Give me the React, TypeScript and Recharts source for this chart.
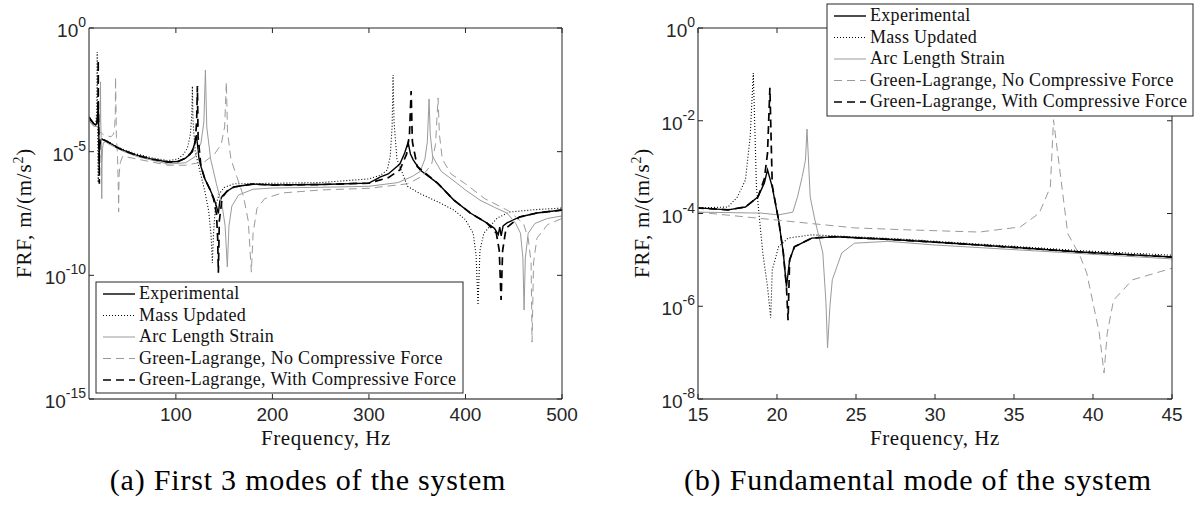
import React from 'react';
import { LineChart, Line, XAxis, YAxis } from 'recharts';

type Pt = [number, number];

// Frequency (Hz), FRF (m/(m/s^2))
const EXPERIMENTAL: Pt[] = [
  [10, 2.51e-4], [12, 1.91e-4], [15, 1.32e-4], [16.9, 1.2e-4], [18, 1.38e-4], [18.8, 2.29e-4],
  [19.2, 4.57e-4], [19.4, 8.71e-4], [19.7, 3.72e-4], [20.1, 7.24e-5], [20.4, 1.41e-5], [20.6, 2.63e-6],
  [20.8, 1e-5], [21.1, 1.91e-5], [22.2, 2.95e-5], [23.7, 3.16e-5], [27.8, 2.69e-5], [32.8, 2.09e-5],
  [39.2, 1.48e-5], [45, 1.15e-5], [58, 7.41e-6], [75, 5.01e-6], [92, 3.8e-6], [102, 3.98e-6],
  [110, 5.5e-6], [115, 7.94e-6], [118, 1.41e-5], [120, 2.51e-5], [121.2, 4.68e-5], [122.5, 1.78e-5],
  [124, 5.01e-6], [126, 2.51e-6], [130, 7.94e-7], [135, 3.16e-7], [139, 1.41e-7], [142, 6.31e-8],
  [144, 3.16e-8], [145.5, 1e-7], [148, 1.58e-7], [153, 2.51e-7], [160, 3.72e-7], [180, 4.9e-7],
  [200, 4.47e-7], [250, 4.68e-7], [300, 5.37e-7], [312, 9.55e-7], [320, 1.26e-6], [332, 3.16e-6],
  [337, 8.91e-6], [340.6, 2.4e-5], [343, 7.94e-6], [346, 4.57e-6], [353, 1.82e-6], [371, 5.37e-7],
  [388, 1.1e-7], [405, 3.31e-8], [422, 1.32e-8], [430, 7.94e-9], [434, 4.47e-9], [435.5, 8.91e-9],
  [437, 3.98e-9], [439, 1e-8], [443, 1.32e-8], [456, 2.29e-8], [474, 3.31e-8], [500, 4.37e-8],
];

const MASS_UPDATED: Pt[] = [
  [10, 2.51e-4], [12, 1.91e-4], [15, 1.32e-4], [16.9, 1.38e-4], [17.5, 2.29e-4], [18, 5.25e-4],
  [18.3, 4.47e-3], [18.5, 1.07e-1], [18.7, 3.72e-4], [18.9, 7.24e-5], [19.1, 1.41e-5], [19.4, 2.63e-6],
  [19.6, 5.62e-7], [19.7, 6.03e-6], [20.1, 1.91e-5], [20.7, 2.95e-5], [22.2, 3.47e-5], [27.8, 2.82e-5],
  [32.8, 2.19e-5], [39.2, 1.58e-5], [45, 1.26e-5], [58, 8.32e-6], [75, 5.62e-6], [92, 4.37e-6],
  [102, 5.01e-6], [108, 7.94e-6], [112, 1.41e-5], [115, 5.01e-5], [116.5, 3.16e-4], [117.1, 4.47e-3],
  [117.8, 1.58e-4], [120, 1e-5], [125, 1.58e-6], [130, 2.51e-7], [134, 3.98e-8], [136.5, 3.98e-9],
  [137.8, 3.16e-10], [139, 5.01e-9], [141, 6.31e-8], [145, 2e-7], [150, 3.55e-7], [160, 5.01e-7],
  [200, 5.25e-7], [250, 5.62e-7], [300, 7.94e-7], [312, 1.12e-6], [319, 1.82e-6], [322, 6.31e-6],
  [324, 1e-4], [325, 1.26e-2], [326, 1.58e-4], [329, 5.01e-6], [340, 3.98e-7], [353, 2e-7],
  [370, 1e-7], [388, 4.37e-8], [400, 1.78e-8], [408, 5.01e-9], [411, 6.31e-10], [413, 6.31e-12],
  [415, 1e-9], [419, 5.01e-9], [433, 2.09e-8], [446, 3.63e-8], [470, 4.47e-8], [500, 5.25e-8],
];

const ARC_LENGTH: Pt[] = [
  [10, 2e-4], [12, 1.51e-4], [15, 1.07e-4], [19, 1.02e-4], [20.1, 9.33e-5], [21, 1.07e-4],
  [21.3, 2.29e-4], [21.6, 6.31e-4], [21.8, 1.41e-3], [21.9, 6.61e-3], [22.1, 2.29e-4], [22.4, 7.24e-5],
  [22.9, 1.41e-5], [23.1, 1.17e-6], [23.2, 1.26e-7], [23.35, 1e-6], [23.5, 3.72e-6], [24.1, 1.41e-5],
  [24.9, 2.29e-5], [27, 2.51e-5], [30, 2.09e-5], [45, 1.05e-5], [60, 6.31e-6], [92, 3.16e-6],
  [110, 3.55e-6], [120, 6.31e-6], [126, 2.24e-5], [129, 1.58e-4], [130.6, 2e-2], [132, 1e-4],
  [136, 5.01e-6], [142, 5.01e-7], [148, 6.31e-8], [151, 1e-8], [153.3, 2.19e-10], [155, 1e-8],
  [158, 6.31e-8], [165, 1.78e-7], [180, 3.02e-7], [200, 3.39e-7], [250, 3.63e-7], [300, 3.98e-7],
  [330, 5.62e-7], [345, 1e-6], [353, 1.58e-6], [358, 5.01e-6], [360.5, 2.51e-5], [362.3, 1.35e-3],
  [363.5, 5.01e-5], [366, 6.31e-6], [375, 1.58e-6], [387, 7.08e-7], [400, 2.82e-7], [415, 1.1e-7],
  [430, 5.62e-8], [443, 3.31e-8], [452, 1.26e-8], [457, 5.01e-9], [459.5, 5.01e-10], [460.7, 3.98e-12],
  [462, 5.01e-10], [465, 5.01e-9], [472, 1.26e-8], [485, 2e-8], [500, 2.51e-8],
];

const GL_NO_COMPRESSIVE: Pt[] = [
  [10, 1.91e-4], [12, 1.41e-4], [15, 1.07e-4], [21.1, 6.61e-5], [24.9, 4.9e-5], [28, 4.47e-5],
  [32.8, 3.98e-5], [35.4, 5.13e-5], [36.6, 1.02e-4], [37.3, 3.72e-4], [37.5, 1.05e-2], [38.4, 3.72e-5],
  [39.2, 1.17e-5], [39.6, 5.25e-6], [40.4, 2.63e-7], [40.7, 3.63e-8], [40.9, 2.63e-7], [41.3, 1.35e-6],
  [42.5, 3.72e-6], [45, 6.61e-6], [60, 5.01e-6], [92, 2.82e-6], [110, 2.82e-6], [130, 3.98e-6],
  [140, 7.94e-6], [147, 2e-5], [150.5, 1e-4], [152.3, 6.61e-3], [153.5, 6.31e-5], [157, 5.01e-6],
  [163, 1e-6], [170, 1.58e-7], [175, 1.58e-8], [178.2, 1.35e-10], [180, 5.01e-9], [184, 5.01e-8],
  [192, 1.26e-7], [210, 2.14e-7], [250, 2.82e-7], [300, 3.31e-7], [340, 5.01e-7], [355, 1e-6],
  [365, 3.16e-6], [369, 2e-5], [371.6, 1.48e-3], [373, 5.01e-5], [376, 5.01e-6], [385, 1.26e-6],
  [400, 5.01e-7], [420, 1.26e-7], [445, 3.98e-8], [460, 1.26e-8], [465, 3.16e-9], [468, 3.16e-10],
  [469, 2e-13], [470.5, 3.16e-10], [474, 3.16e-9], [485, 1.12e-8], [500, 2e-8],
];

const GL_WITH_COMPRESSIVE: Pt[] = [
  [10, 2.51e-4], [12, 1.91e-4], [15, 1.32e-4], [16.9, 1.2e-4], [18, 1.38e-4], [18.8, 2.29e-4],
  [19.2, 5.62e-4], [19.4, 2e-3], [19.55, 5.13e-2], [19.7, 3.98e-4], [20.1, 7.24e-5], [20.4, 1.41e-5],
  [20.6, 2.51e-6], [20.7, 5.01e-7], [20.8, 1e-5], [21.1, 1.91e-5], [22.2, 2.95e-5], [23.7, 3.16e-5],
  [27.8, 2.69e-5], [32.8, 2.09e-5], [39.2, 1.48e-5], [45, 1.15e-5], [58, 7.41e-6], [75, 5.01e-6],
  [92, 3.8e-6], [102, 3.98e-6], [110, 5.5e-6], [117, 1e-5], [120, 2.51e-5], [121.5, 1.58e-4],
  [122.3, 4.47e-3], [123, 3.98e-5], [126, 2.51e-6], [130, 7.94e-7], [135, 3.16e-7], [139, 1.26e-7],
  [142, 3.16e-8], [143.3, 3.16e-9], [144, 1.26e-10], [145, 1.58e-8], [148, 1.41e-7], [153, 2.51e-7],
  [160, 3.72e-7], [180, 4.9e-7], [200, 4.47e-7], [250, 4.68e-7], [300, 5.37e-7], [320, 8.91e-7],
  [332, 1.82e-6], [339, 7.94e-6], [342, 5.01e-5], [343.7, 2.82e-3], [345, 2.51e-5], [350, 2.51e-6],
  [371, 5.37e-7], [388, 1.1e-7], [405, 3.31e-8], [422, 1.32e-8], [432, 5.01e-9], [435, 1e-9],
  [436.9, 1e-11], [438.5, 1e-9], [442, 7.94e-9], [456, 2.29e-8], [474, 3.31e-8], [500, 4.37e-8],
];

const SERIES_NAMES = [
  'Experimental',
  'Mass Updated',
  'Arc Length Strain',
  'Green-Lagrange, No Compressive Force',
  'Green-Lagrange, With Compressive Force',
];

const LEFT_X_DOMAIN: [number, number] = [10, 500];
const LEFT_X_TICKS = [100, 200, 300, 400, 500];
const LEFT_Y_DOMAIN: [number, number] = [1e-15, 1];
const LEFT_Y_TICKS = [1e-15, 1e-10, 1e-5, 1];

const RIGHT_X_DOMAIN: [number, number] = [15, 45];
const RIGHT_X_TICKS = [15, 20, 25, 30, 35, 40, 45];
const RIGHT_Y_DOMAIN: [number, number] = [1e-8, 1];
const RIGHT_Y_TICKS = [1e-8, 1e-6, 1e-4, 1e-2, 1];

const CAPTIONS = ['(a) First 3 modes of the system', '(b) Fundamental mode of the system'];
const X_LABEL = 'Frequency, Hz';

const SERIF = '"Liberation Serif", "Times New Roman", serif';
const SANS = '"Liberation Sans", Arial, Helvetica, sans-serif';
const AXIS = '#262626';
const AXIS_SOFT = '#5a5a5a';
const GRAY = '#9a9a9a';

const STYLES = [
  { color: '#000000', width: 1.4, dash: undefined as string | undefined },
  { color: '#000000', width: 1.1, dash: '1 2' },
  { color: GRAY, width: 1, dash: undefined },
  { color: GRAY, width: 1, dash: '8 5' },
  { color: '#000000', width: 1.7, dash: '8 5' },
];

const SERIES_DATA = [EXPERIMENTAL, MASS_UPDATED, ARC_LENGTH, GL_NO_COMPRESSIVE, GL_WITH_COMPRESSIVE];

const rows = (pts: Pt[]) => pts.map(([f, v]) => ({ f, v }));

const expOf = (v: number) => Math.round(Math.log10(v));

const BottomTick = (p: any) => (
  <g>
    <line x1={p.x} y1={p.y} x2={p.x} y2={p.y - 5} stroke={AXIS} strokeWidth={1} />
    <text x={p.x} y={p.y + 22} textAnchor="middle" fontFamily={SANS} fontSize={19} fill={AXIS}>
      {p.payload.value}
    </text>
  </g>
);

const TopTick = (p: any) => (
  <line x1={p.x} y1={p.y} x2={p.x} y2={p.y + 5} stroke={AXIS} strokeWidth={1} />
);

const LeftTick = (p: any) => (
  <g>
    <line x1={p.x} y1={p.y} x2={p.x + 5} y2={p.y} stroke={AXIS} strokeWidth={1} />
    <text x={p.x - 3} y={p.y + 9} textAnchor="end" fontFamily={SANS} fontSize={19} fill={AXIS}>
      10
      <tspan dy={-10} fontSize={14}>
        {expOf(p.payload.value)}
      </tspan>
    </text>
  </g>
);

const RightTick = (p: any) => (
  <line x1={p.x} y1={p.y} x2={p.x - 5} y2={p.y} stroke={AXIS} strokeWidth={1} />
);

type PanelProps = {
  width: number;
  margin: { top: number; right: number; bottom: number; left: number };
  xDomain: [number, number];
  xTicks: number[];
  yDomain: [number, number];
  yTicks: number[];
};

function Panel({ width, margin, xDomain, xTicks, yDomain, yTicks }: PanelProps) {
  return (
    <LineChart width={width} height={506} margin={margin}>
      <XAxis
        xAxisId="b"
        dataKey="f"
        type="number"
        orientation="bottom"
        domain={xDomain}
        ticks={xTicks}
        interval={0}
        allowDataOverflow
        height={1}
        tickSize={0}
        tickMargin={0}
        tickLine={false}
        axisLine={{ stroke: AXIS_SOFT, strokeWidth: 1.4 }}
        tick={BottomTick}
      />
      <XAxis
        xAxisId="t"
        dataKey="f"
        type="number"
        orientation="top"
        domain={xDomain}
        ticks={xTicks}
        interval={0}
        allowDataOverflow
        height={1}
        tickSize={0}
        tickMargin={0}
        tickLine={false}
        axisLine={{ stroke: AXIS, strokeWidth: 1 }}
        tick={TopTick}
      />
      <YAxis
        yAxisId="l"
        type="number"
        scale="log"
        orientation="left"
        domain={yDomain}
        ticks={yTicks}
        interval={0}
        allowDataOverflow
        width={1}
        tickSize={0}
        tickMargin={0}
        tickLine={false}
        axisLine={{ stroke: AXIS_SOFT, strokeWidth: 1.4 }}
        tick={LeftTick}
      />
      <YAxis
        yAxisId="r"
        type="number"
        scale="log"
        orientation="right"
        domain={yDomain}
        ticks={yTicks}
        interval={0}
        allowDataOverflow
        width={1}
        tickSize={0}
        tickMargin={0}
        tickLine={false}
        axisLine={{ stroke: AXIS, strokeWidth: 1 }}
        tick={RightTick}
      />
      {SERIES_DATA.map((d, i) => (
        <Line
          key={SERIES_NAMES[i]}
          xAxisId="b"
          yAxisId="l"
          data={rows(d)}
          dataKey="v"
          name={SERIES_NAMES[i]}
          type="linear"
          stroke={STYLES[i].color}
          strokeWidth={STYLES[i].width}
          strokeDasharray={STYLES[i].dash}
          dot={false}
          activeDot={false}
          isAnimationActive={false}
        />
      ))}
    </LineChart>
  );
}

function LegendBox({ x, y, w, h }: { x: number; y: number; w: number; h: number }) {
  const row = 21.5;
  return (
    <g>
      <rect x={x} y={y} width={w} height={h} fill="#ffffff" stroke={AXIS} strokeWidth={1} />
      {SERIES_NAMES.map((name, i) => {
        const base = y + 17 + i * row;
        return (
          <g key={name}>
            <line
              x1={x + 7}
              x2={x + 39}
              y1={base - 5}
              y2={base - 5}
              stroke={STYLES[i].color}
              strokeWidth={STYLES[i].width}
              strokeDasharray={STYLES[i].dash}
            />
            <text x={x + 43} y={base} fontFamily={SERIF} fontSize={18} letterSpacing={0.3} fill="#111">
              {name}
            </text>
          </g>
        );
      })}
    </g>
  );
}

function YLabel({ x, y }: { x: number; y: number }) {
  return (
    <text
      x={x}
      y={y}
      transform={`rotate(-90 ${x} ${y})`}
      textAnchor="middle"
      fontFamily={SERIF}
      fontSize={21}
      letterSpacing={0.8}
      fill="#111"
    >
      FRF, m/(m/s
      <tspan dy={-8} fontSize={14}>
        2
      </tspan>
      <tspan dy={8}>)</tspan>
    </text>
  );
}

export default function App() {
  return (
    <div style={{ position: 'absolute', left: 0, top: 0, width: 1198, height: 506, background: '#fff' }}>
      <div style={{ position: 'absolute', left: 0, top: 0 }}>
        <Panel
          width={600}
          margin={{ top: 27, right: 37, bottom: 106, left: 88 }}
          xDomain={LEFT_X_DOMAIN}
          xTicks={LEFT_X_TICKS}
          yDomain={LEFT_Y_DOMAIN}
          yTicks={LEFT_Y_TICKS}
        />
      </div>
      <div style={{ position: 'absolute', left: 600, top: 0 }}>
        <Panel
          width={598}
          margin={{ top: 27, right: 25, bottom: 106, left: 97 }}
          xDomain={RIGHT_X_DOMAIN}
          xTicks={RIGHT_X_TICKS}
          yDomain={RIGHT_Y_DOMAIN}
          yTicks={RIGHT_Y_TICKS}
        />
      </div>
      <svg
        width={1198}
        height={506}
        style={{ position: 'absolute', left: 0, top: 0, pointerEvents: 'none' }}
      >
        <LegendBox x={96} y={282} w={367} h={111} />
        <LegendBox x={827} y={4} w={366} h={112} />
        <YLabel x={31} y={213} />
        <YLabel x={649} y={213} />
        <text x={326} y={445} textAnchor="middle" fontFamily={SERIF} fontSize={21} letterSpacing={0.6} fill="#111">
          {X_LABEL}
        </text>
        <text x={935} y={445} textAnchor="middle" fontFamily={SERIF} fontSize={21} letterSpacing={0.6} fill="#111">
          {X_LABEL}
        </text>
        <text x={308} y={490} textAnchor="middle" fontFamily={SERIF} fontSize={30} letterSpacing={0.8} fill="#000">
          {CAPTIONS[0]}
        </text>
        <text x={918} y={490} textAnchor="middle" fontFamily={SERIF} fontSize={30} letterSpacing={0.8} fill="#000">
          {CAPTIONS[1]}
        </text>
      </svg>
    </div>
  );
}
